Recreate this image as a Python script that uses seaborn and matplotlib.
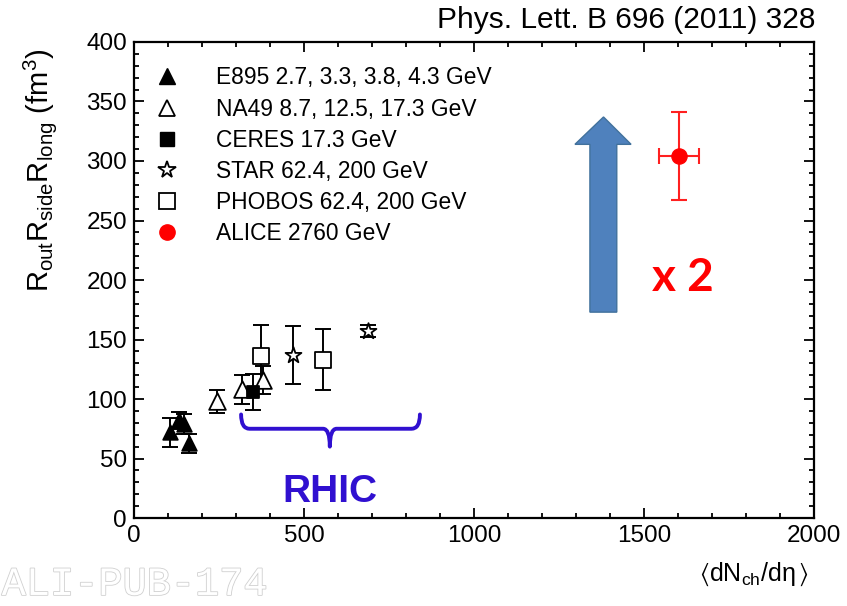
import numpy as np
import pandas as pd
import matplotlib
matplotlib.use("Agg")
import matplotlib.pyplot as plt
import matplotlib.patheffects as pe
from matplotlib.lines import Line2D
from matplotlib.path import Path
from matplotlib.patches import PathPatch, Polygon
import seaborn as sns

# ---------------- data ----------------
e895_x = [106, 133, 146, 162]
e895_y = [72, 82, 79, 63]
e895_ey = [12, 7, 8, 8]

na49_x = [243, 317, 380]
na49_y = [98, 108, 116]
na49_ey = [9.5, 12.5, 12]

ceres_x = [349]
ceres_y = [106]
ceres_ey = [15]

star_x = [469, 689]
star_y = [137, 157]
star_ey = [24, 5]

phobos_x = [374, 557]
phobos_y = [136, 133]
phobos_ey = [26, 25.5]

alice_x = [1603]
alice_y = [304]
alice_ey = [37]
alice_ex = [59]

labels = ["E895 2.7, 3.3, 3.8, 4.3 GeV", "NA49 8.7, 12.5, 17.3 GeV", "CERES 17.3 GeV",
          "STAR 62.4, 200 GeV", "PHOBOS 62.4, 200 GeV", "ALICE 2760 GeV"]

x_ticks = [0, 500, 1000, 1500, 2000]
y_ticks = [0, 50, 100, 150, 200, 250, 300, 350, 400]

# annotation shapes (data coordinates)
arrow_x = [1341, 1420, 1420, 1462, 1381, 1297, 1341]
arrow_y = [173, 173, 314, 314, 337, 314, 314]
brace_left, brace_mid, brace_right = 315, 576, 841
brace_top, brace_bar, brace_tip = 87, 75, 60

# ---------------- style ----------------
sns.set_style("ticks")
plt.rcParams["font.family"] = ["Liberation Sans", "DejaVu Sans"]
plt.rcParams["text.color"] = "black"
plt.rcParams["axes.labelcolor"] = "black"
plt.rcParams["mathtext.fontset"] = "custom"
plt.rcParams["mathtext.rm"] = "Liberation Sans"
plt.rcParams["mathtext.it"] = "Liberation Sans"
plt.rcParams["mathtext.bf"] = "Liberation Sans:bold"
plt.rcParams["mathtext.default"] = "regular"

fig = plt.figure(figsize=(8.47, 6.06), dpi=100)
ax = fig.add_axes([0.1582, 0.1452, 0.961 - 0.1582, 0.9307 - 0.1452])

series = [
    ("E895", e895_x, e895_y, e895_ey, "^", "black", "black", 10.5),
    ("NA49", na49_x, na49_y, na49_ey, "^", "white", "black", 12),
    ("CERES", ceres_x, ceres_y, ceres_ey, "s", "black", "black", 9),
    ("STAR", star_x, star_y, star_ey, "*", "white", "black", 12),
    ("PHOBOS", phobos_x, phobos_y, phobos_ey, "s", "white", "black", 11.5),
]

for name, xs, ys, eys, mk, fc, ec, ms in series:
    ax.errorbar(xs, ys, yerr=eys, fmt="none", ecolor="black", elinewidth=1.4,
                capsize=6, capthick=1.4, zorder=2)

for name, xs, ys, eys, mk, fc, ec, ms in series:
    df = pd.DataFrame({"x": xs, "y": ys})
    sns.scatterplot(data=df, x="x", y="y", marker=mk, s=ms ** 2, color=fc,
                    edgecolor=ec, linewidth=1.3, ax=ax, zorder=3, legend=False)

ax.errorbar(alice_x, alice_y, yerr=alice_ey, xerr=alice_ex, fmt="none",
            ecolor="#FF2020", elinewidth=1.5, capsize=6, capthick=1.5, zorder=2)
sns.scatterplot(data=pd.DataFrame({"x": alice_x, "y": alice_y}), x="x", y="y",
                marker="o", s=11 ** 2, color="#FF0000", edgecolor="#FF0000",
                ax=ax, zorder=3, legend=False)

# arrow
ax.add_patch(Polygon(list(zip(arrow_x, arrow_y)), closed=True, facecolor="#4F81BD",
                     edgecolor="#41719C", linewidth=1.0, zorder=1))
ax.text(1615, 202, "x 2", color="#FF0000", fontsize=33, fontweight="bold",
        family=["Lato", "DejaVu Sans"], ha="center", va="center")

# brace
verts = [
    (brace_left, brace_top), (brace_left, brace_bar), (brace_left + 25, brace_bar),
    (brace_mid - 20, brace_bar), (brace_mid, brace_bar), (brace_mid, brace_tip),
    (brace_mid, brace_bar), (brace_mid + 20, brace_bar),
    (brace_right - 25, brace_bar), (brace_right, brace_bar), (brace_right, brace_top),
]
codes = [Path.MOVETO, Path.CURVE3, Path.CURVE3, Path.LINETO, Path.CURVE3, Path.CURVE3,
         Path.CURVE3, Path.CURVE3, Path.LINETO, Path.CURVE3, Path.CURVE3]
ax.add_patch(PathPatch(Path(verts, codes), fill=False, edgecolor="#3010D0",
                       linewidth=2.8, capstyle="round", joinstyle="round", zorder=4))
ax.text(576, 22, "RHIC", color="#3010D0", fontsize=28, fontweight="bold",
        ha="center", va="center")

# axes
ax.set_xlim(0, 2000)
ax.set_ylim(0, 400)
ax.set_xticks(x_ticks)
ax.set_yticks(y_ticks)
ax.set_xticklabels([str(t) for t in x_ticks])
ax.set_yticklabels([str(t) for t in y_ticks])
ax.xaxis.set_minor_locator(matplotlib.ticker.MultipleLocator(100))
ax.yaxis.set_minor_locator(matplotlib.ticker.MultipleLocator(10))
ax.tick_params(which="both", direction="in", top=True, right=True, width=1.3,
               labelsize=17.5, pad=5, color="black", labelcolor="black")
ax.tick_params(which="major", length=7)
ax.tick_params(which="minor", length=3.5)
for s in ax.spines.values():
    s.set_linewidth(1.6)
    s.set_color("black")

ax.set_xlabel(r"$\langle$dN$_{ch}$/d$\eta\,\rangle$", fontsize=18, loc="right")
ax.xaxis.set_label_coords(0.992, -0.09)
ax.set_ylabel(r"R$_{out}$R$_{side}$R$_{long}$ (fm$^{3}$)", fontsize=21, loc="top")
ax.yaxis.set_label_coords(-0.11, 0.985)

# legend
handles = [
    Line2D([], [], marker="^", ls="none", color="black", markersize=11),
    Line2D([], [], marker="^", ls="none", mfc="white", mec="black", markersize=12, mew=1.3),
    Line2D([], [], marker="s", ls="none", color="black", markersize=10),
    Line2D([], [], marker="*", ls="none", mfc="white", mec="black", markersize=13, mew=1.3),
    Line2D([], [], marker="s", ls="none", mfc="white", mec="black", markersize=11, mew=1.3),
    Line2D([], [], marker="o", ls="none", color="#FF0000", markersize=11),
]
leg = ax.legend(handles, labels, loc="upper left", bbox_to_anchor=(-0.003, 0.987), frameon=False,
                fontsize=16.4, handlelength=1.5, handletextpad=1.4, labelspacing=0.36,
                borderpad=0.3, borderaxespad=0.5)
for t in leg.get_texts():
    t.set_color("black")

fig.text(815 / 847, 1 - 20 / 606, "Phys. Lett. B 696 (2011) 328", fontsize=21.5,
         ha="right", va="center", color="black")
fig.text(0.002, 0.005, "ALI-PUB-174", fontsize=29, family=["Liberation Mono", "DejaVu Sans Mono"],
         color="white", ha="left", va="bottom",
         path_effects=[pe.withStroke(linewidth=1.2, foreground="#D0D0D0")])

fig.savefig("out.png", dpi=100)
